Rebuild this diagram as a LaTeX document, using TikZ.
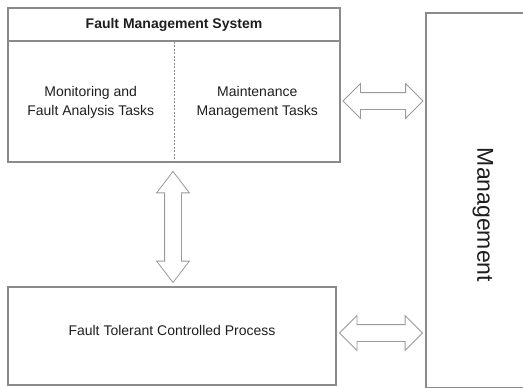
\documentclass[tikz,border=0pt]{standalone}
\usepackage{fontspec}
\setmainfont{Liberation Sans}
\usetikzlibrary{shapes.arrows,calc}
\definecolor{boxgray}{HTML}{8A8A8A}
\definecolor{arrowgray}{HTML}{9A9A9A}
\definecolor{textgray}{HTML}{1E1E1E}
\tikzset{
  box/.style={draw=boxgray, line width=1.2pt, inner sep=0pt},
  txt/.style={text=textgray, font=\fontsize{14}{19}\selectfont, align=center},
  fatarrow/.style={double arrow, draw=arrowgray, fill=white, line width=0.8pt,
    inner xsep=0pt, inner ysep=8pt, minimum width=34pt, double arrow head extend=9pt,
    double arrow tip angle=90}
}
\begin{document}
\begin{tikzpicture}[x=1pt,y=-1pt]
\useasboundingbox (0,0) rectangle (523,388);
% fault management system
\node[box, minimum width=332pt, minimum height=154pt] (fms) at (174,85) {};
\node[box, txt, minimum width=332pt, minimum height=33pt, anchor=north,
  font=\fontsize{14}{19}\selectfont\bfseries] (title) at (fms.north) {Fault Management System};
\draw[boxgray, line width=0.6pt, dash pattern=on 2pt off 1.5pt] (title.south) -- (fms.south);
\node[txt] (mon) at ($(fms.south west)!0.5!(title.south)$) {Monitoring and\\Fault Analysis Tasks};
\node[txt] (mnt) at ($(fms.south east)!0.5!(title.south)$) {Maintenance\\Management Tasks};
% controlled process and management
\node[box, txt, minimum width=328pt, minimum height=98pt, text depth=12pt] (fcp) at (172,336) {Fault Tolerant Controlled Process};
\node[inner sep=0pt, minimum width=160pt, minimum height=374pt, anchor=north west] (mgmt) at (426,13) {};
\draw[boxgray, line width=1.2pt] (mgmt.north east) -- (mgmt.north west) -- (mgmt.south west) -- (mgmt.south east);
\node[txt, font=\fontsize{23}{26}\selectfont, rotate=-90] (mgmtlabel) at (483,215) {Management};
% hollow double arrows
\node[fatarrow, minimum height=80pt] (fms-mgmt) at (383,101) {};
\node[fatarrow, minimum height=83pt] (fcp-mgmt) at (381,333) {};
\node[fatarrow, minimum height=111pt, minimum width=32pt, double arrow head extend=8pt,
  double arrow tip angle=75, rotate=90] (fms-fcp) at (173,227) {};
\end{tikzpicture}
\end{document}
